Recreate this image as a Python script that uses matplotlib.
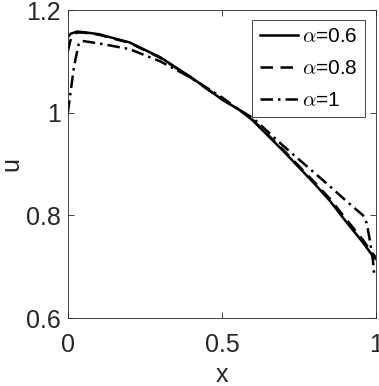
import numpy as np
import matplotlib
matplotlib.use('Agg')
import matplotlib.pyplot as plt

# values
x_06 = [0.0, 0.01, 0.03, 0.05, 0.1, 0.2, 0.3, 0.4, 0.5, 0.558, 0.6, 0.7, 0.8, 0.851, 0.9, 0.958, 0.987, 1.0]
u_06 = [1.148, 1.154, 1.158, 1.157, 1.153, 1.137, 1.108, 1.069, 1.026, 1.005, 0.985, 0.925, 0.862, 0.828, 0.79, 0.747, 0.723, 0.715]

x_08 = [0.0, 0.008, 0.016, 0.03, 0.05, 0.1, 0.2, 0.3, 0.4, 0.5, 0.558, 0.6, 0.7, 0.8, 0.851, 0.9, 0.958, 0.987, 1.0]
u_08 = [1.12, 1.14, 1.152, 1.156, 1.156, 1.152, 1.136, 1.107, 1.068, 1.026, 1.005, 0.986, 0.927, 0.865, 0.832, 0.795, 0.752, 0.727, 0.718]

x_1 = [0.0, 0.01, 0.02, 0.035, 0.045, 0.1, 0.2, 0.3, 0.4, 0.5, 0.55, 0.6, 0.7, 0.85, 0.9, 0.958, 0.97, 0.98, 0.99, 0.995]
u_1 = [1.0, 1.045, 1.09, 1.133, 1.14, 1.135, 1.124, 1.1, 1.068, 1.03, 1.008, 0.99, 0.935, 0.857, 0.83, 0.80, 0.785, 0.752, 0.713, 0.68]

labels = [r'$\alpha$=0.6', r'$\alpha$=0.8', r'$\alpha$=1']
xticks = [0, 0.5, 1]
xtick_labels = ['0', '0.5', '1']
yticks = [0.6, 0.8, 1.0, 1.2]
ytick_labels = ['0.6', '0.8', '1', '1.2']

plt.rcParams['font.family'] = ['Liberation Sans', 'DejaVu Sans']
plt.rcParams['mathtext.fontset'] = 'cm'

fig = plt.figure(figsize=(3.79, 3.86), dpi=100)
ax = fig.add_axes([0.179, 0.176, 0.813, 0.798])

ax.plot(x_06, u_06, color='black', lw=1.8, ls='-', label=labels[0])
ax.plot(x_08, u_08, color='black', lw=1.8, ls=(0, (5, 3)), label=labels[1])
ax.plot(x_1, u_1, color='black', lw=1.8, ls=(0, (5, 2, 1, 2)), label=labels[2])

ax.set_xlim(0, 1)
ax.set_ylim(0.6, 1.2)
ax.set_xticks(xticks)
ax.set_xticklabels(xtick_labels)
ax.set_yticks(yticks)
ax.set_yticklabels(ytick_labels)
ax.tick_params(direction='in', length=4, width=0.6, colors='#262626',
               labelsize=18, top=True, right=True)
ax.tick_params(axis='y', pad=5)
ax.tick_params(axis='x', pad=11)
for s in ax.spines.values():
    s.set_color('#262626')
    s.set_linewidth(0.6)

ax.set_xlabel('x', fontsize=18, color='#262626', labelpad=4)
ax.set_ylabel('u', fontsize=18, color='#262626', labelpad=2)

leg = ax.legend(loc='upper right', bbox_to_anchor=(0.965, 0.968), borderaxespad=0,
                fontsize=15, fancybox=False, handlelength=1.85, handletextpad=0.2,
                labelspacing=0.62, borderpad=0.35, framealpha=1)
leg.get_frame().set_edgecolor('#262626')
leg.get_frame().set_linewidth(0.6)

fig.savefig('out.png', dpi=100)
